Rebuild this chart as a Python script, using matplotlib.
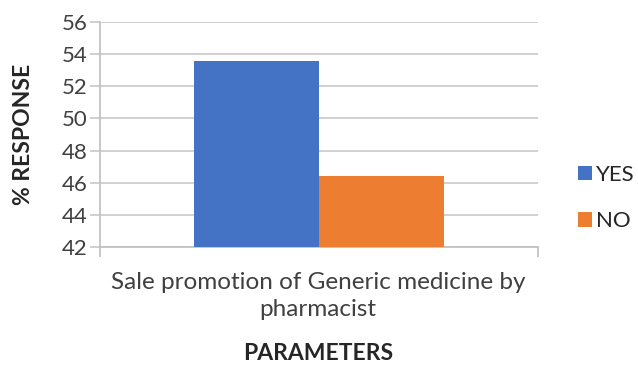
import matplotlib.pyplot as plt

# data
category = "Sale promotion of Generic medicine by\npharmacist"
series = ["YES", "NO"]
values = [53.6, 46.4]
colors = ["#4472C4", "#ED7D31"]
yticks = [42, 44, 46, 48, 50, 52, 54, 56]

plt.rcParams['font.family'] = ['Lato', 'DejaVu Sans']

fig = plt.figure(figsize=(6.38, 3.65), dpi=100)
ax = fig.add_axes([100 / 638, 1 - 247 / 365, 438 / 638, 225 / 365])

bar_w = 0.2865
offsets = [-bar_w / 2, bar_w / 2]
handles = []
for name, val, col, off in zip(series, values, colors, offsets):
    b = ax.bar(off, val - yticks[0], bottom=yticks[0], width=bar_w, color=col, label=name, zorder=3)
    handles.append(b)

ax.set_xlim(-0.5, 0.5)
ax.set_ylim(yticks[0], yticks[-1])
ax.set_yticks(yticks)
ax.yaxis.grid(True, color='#d0d0d0', linewidth=1.4, zorder=0)

for s in ['top', 'right']:
    ax.spines[s].set_visible(False)
ax.spines['left'].set_color('#bfbfbf')
ax.spines['bottom'].set_color('#bfbfbf')
ax.spines['left'].set_linewidth(1.2)
ax.spines['bottom'].set_linewidth(1.2)

ax.tick_params(axis='y', length=7, color='#d0d0d0', width=1.4, labelsize=16, labelcolor='#404040', pad=2)
ax.set_xticks([-0.5, 0.5])
ax.set_xticklabels(['', ''])
ax.tick_params(axis='x', length=7, color='#bfbfbf', width=1.2)

fig.text(318 / 638, 1 - 296 / 365, category, ha='center', va='center', fontsize=17.5,
         color='#404040', linespacing=1.3)
fig.text(318 / 638, 1 - 353 / 365, "PARAMETERS", ha='center', va='center', fontsize=16.5,
         fontweight='bold', color='#262626')
fig.text(24 / 638, 1 - 134 / 365, "% RESPONSE", ha='center', va='center', rotation=90,
         fontsize=16.5, fontweight='bold', color='#262626')

fig.legend(handles=handles, loc='center left', bbox_to_anchor=(578 / 638, 1 - 198 / 365),
           frameon=False, fontsize=16, handlelength=0.62, handleheight=0.62,
           handletextpad=0.2, labelspacing=1.2, labelcolor='#262626',
           borderpad=0, borderaxespad=0)

fig.savefig('out.png', dpi=100)
